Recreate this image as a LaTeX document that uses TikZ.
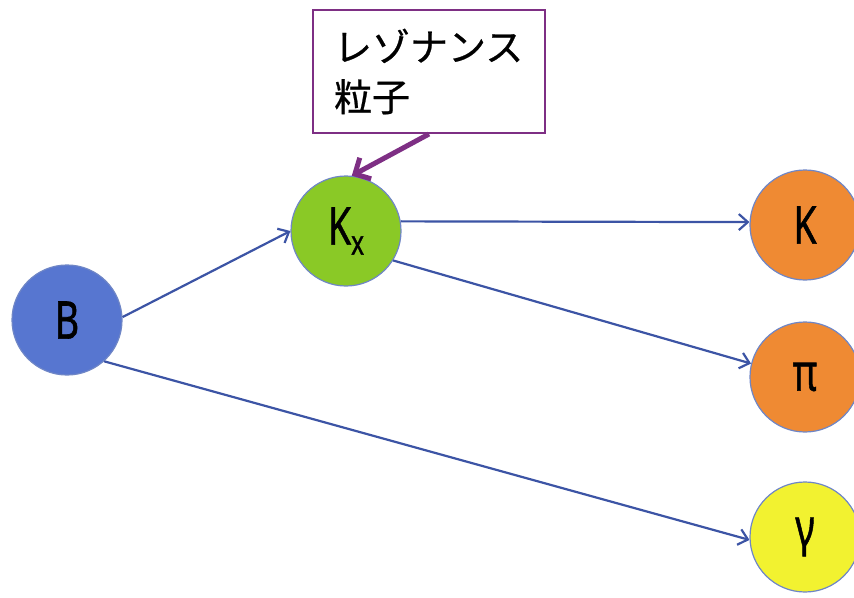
\documentclass[tikz,border=0pt]{standalone}
\usepackage{fontspec}
\setmainfont{Noto Sans}
\newfontfamily\lblfont[FakeBold=1.2]{Noto Sans}
\newfontfamily\cjk[FakeBold=0.6]{Noto Sans CJK JP}
\usetikzlibrary{arrows.meta}
\definecolor{bfill}{HTML}{5776D0}
\definecolor{kxfill}{HTML}{8AC926}
\definecolor{ofill}{HTML}{EF8A33}
\definecolor{yfill}{HTML}{F2F230}
\definecolor{rim}{HTML}{6F86C6}
\definecolor{arrblue}{HTML}{3C54A5}
\definecolor{purp}{HTML}{7E2F84}
\tikzset{
  particle/.style={circle, draw=rim, line width=1.2pt, minimum size=110pt, inner sep=0pt,
    font=\lblfont\fontsize{52}{52}\selectfont},
  flow/.style={draw=arrblue, line width=2.2pt, -{Straight Barb[length=9pt,width=16pt,line width=2.2pt]}},
  callout/.style={draw=purp, line width=2pt, fill=white, minimum width=232pt, minimum height=123pt,
    text width=190pt, align=left, inner xsep=21pt, font=\cjk\fontsize{38}{50}\selectfont},
  pointer/.style={draw=purp, line width=5pt, -{Straight Barb[length=12pt,width=24pt,line width=5pt]}}
}
\newcommand{\lbl}[1]{\scalebox{0.72}[1]{#1}}
\begin{document}
\begin{tikzpicture}[x=1pt,y=-1pt]
\useasboundingbox (0,0) rectangle (854,597);
\node[particle, fill=bfill] (B) at (67,320) {\lbl{B}};
\node[particle, fill=kxfill] (Kx) at (346,231) {\lbl{K\raisebox{-10pt}{\fontsize{34}{34}\selectfont x}}};
\node[particle, fill=ofill] (K) at (805,225) {\lbl{K}};
\node[particle, fill=ofill] (P) at (805,377) {\lbl{π}};
\node[particle, fill=yfill] (G) at (805,537) {\lbl{γ}};
\node[callout] (box) at (429,71.5) {レゾナンス\\粒子};
\draw[flow] (B.3) -- (Kx.180);
\draw[flow] (B.-48) -- (G.183);
\draw[flow] (Kx.10) -- (K.177);
\draw[flow] (Kx.-32) -- (P.166);
\draw[pointer] (box.south) -- (Kx.84);
\end{tikzpicture}
\end{document}
